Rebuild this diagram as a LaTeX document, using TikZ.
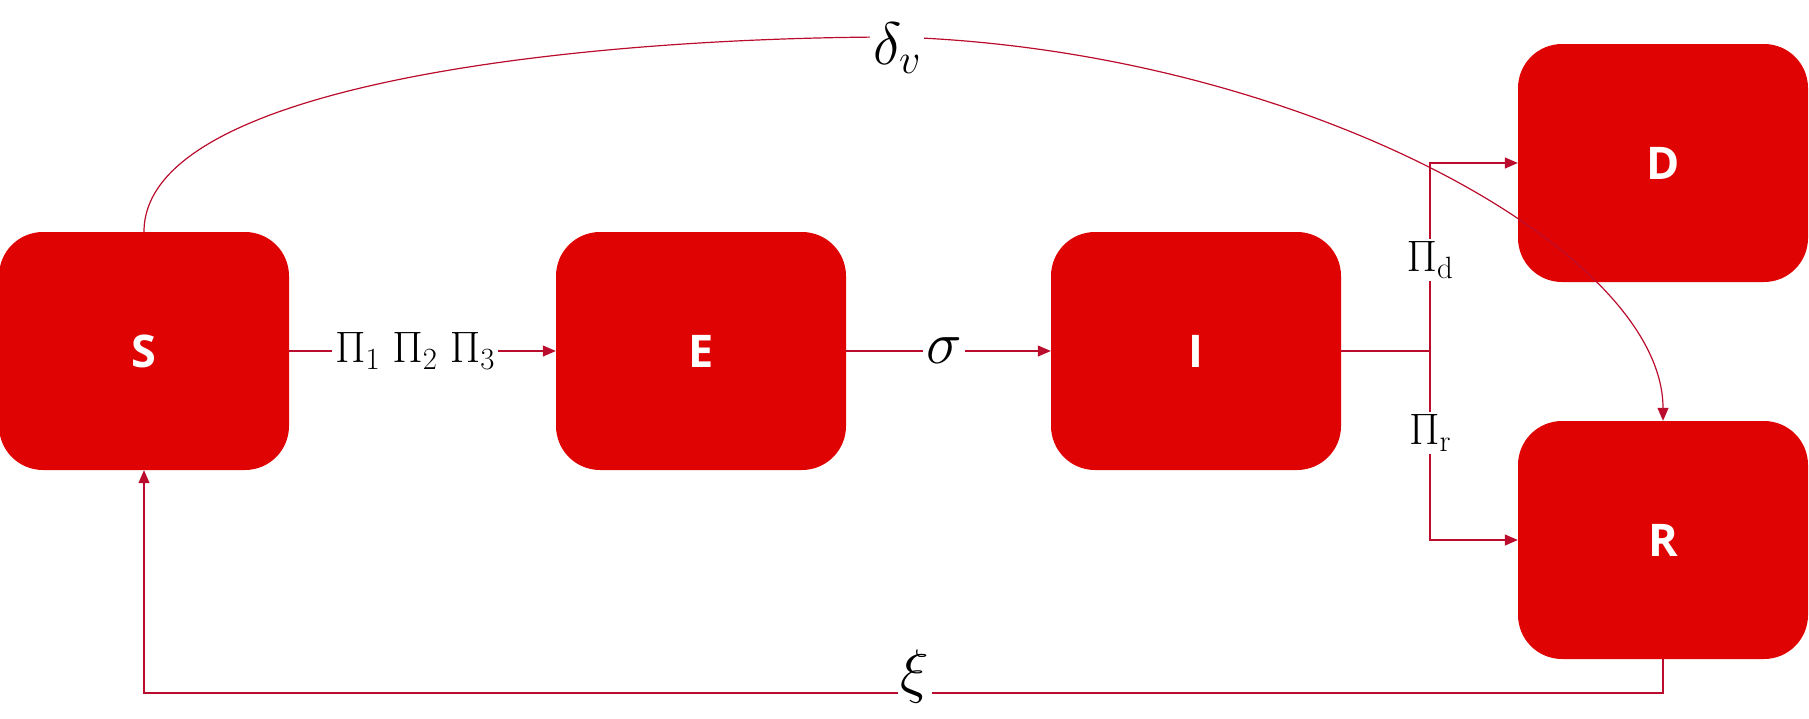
\RequirePackage{fix-cm}
\documentclass[tikz,border=0pt]{standalone}
\usepackage{fontspec}
\setsansfont{Open Sans}
\usetikzlibrary{arrows.meta}
\definecolor{boxred}{RGB}{224,3,3}
\definecolor{linered}{RGB}{186,12,44}
\begin{document}
\begin{tikzpicture}[x=1pt,y=-1pt,
  box/.style={fill=boxred, rounded corners=44pt, minimum width=290pt, minimum height=238pt, inner sep=0pt, text=white, font=\sffamily\bfseries\fontsize{45}{54}\selectfont},
  flow/.style={draw=linered, line width=1.2pt},
  arr/.style={flow, -{Triangle[length=13pt,width=11pt]}},
  lab/.style={fill=white, inner sep=3pt, font=\fontsize{44}{50}\selectfont},
  glab/.style={fill=white, inner sep=3pt, font=\fontsize{60}{70}\selectfont}]
\useasboundingbox (0,0) rectangle (1809,718);
\node[box] (S) at (144,351) {S};
\node[box] (E) at (701,351) {E};
\node[box] (I) at (1196,351) {I};
\node[box] (D) at (1663,163) {D};
\node[box] (R) at (1663,540) {R};
% S -> E
\draw[arr] (S.east) -- (E.west);
\node[lab] (p123) at (415,351) {$\Pi_1\;\Pi_2\;\Pi_3$};
% E -> I
\draw[arr] (E.east) -- (I.west);
\node[glab] (sig) at (944,351) {$\sigma$};
% I branch
\coordinate (br) at (1430,351);
\coordinate (bt) at (1430,163);
\coordinate (bb) at (1430,540);
\draw[flow] (I.east) -- (br);
\draw[arr] (br) -- (bt) -- (D.west);
\draw[arr] (br) -- (bb) -- (R.west);
\node[lab] (pd) at (1430,260) {$\Pi_{\mathrm{d}}$};
\node[lab] (pr) at (1430,433) {$\Pi_{\mathrm{r}}$};
% delta_v curve
\coordinate (top) at (897,37);
\draw[flow] (S.north) .. controls (144,80) and (600,37) .. (top);
\draw[arr] (top) .. controls (1300,50) and (1663,250) .. (R.north);
\node[glab] (dv) at (897,48) {$\delta_v$};
% xi loop
\coordinate (xr) at (1663,693);
\draw[arr] (R.south) -- (R.south |- xr) -- (S.south |- xr) -- (S.south);
\node[glab] (xi) at (915,676) {$\xi$};
\end{tikzpicture}
\end{document}
